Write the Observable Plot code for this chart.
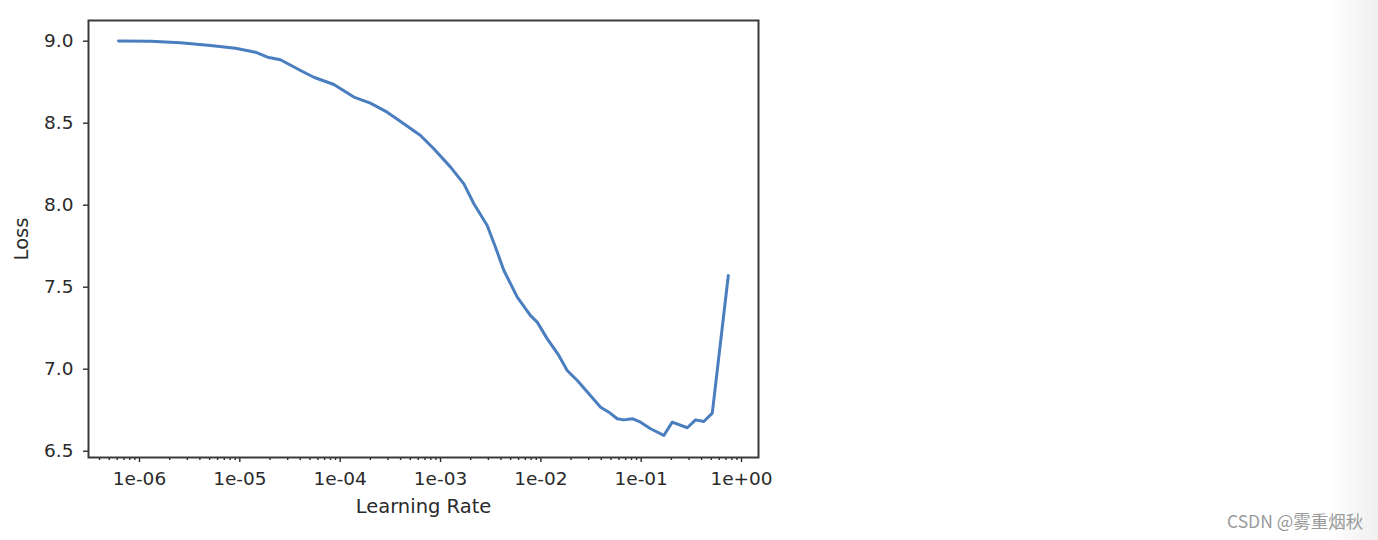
<!DOCTYPE html>
<html>
<head>
<meta charset="utf-8">
<script src="https://cdn.jsdelivr.net/npm/d3@7"></script>
<script src="https://cdn.jsdelivr.net/npm/@observablehq/plot@0.6"></script>
<style>
  html, body { margin: 0; padding: 0; background: #fff; }
  body { width: 1378px; height: 540px; position: relative; overflow: hidden; }
  #shade { position: absolute; top: 0; right: 0; width: 48px; height: 540px;
           background: linear-gradient(to right, rgba(240,240,240,0), #efefef); }
  #chart { position: absolute; left: 0; top: 0; }
  #wm { position: absolute; left: 1227px; top: 508px; font-family: "Noto Sans CJK SC", "Noto Sans", sans-serif;
        font-size: 17.5px; color: #9a9a9a; white-space: nowrap; }
  #chart svg [aria-label="x-axis label"] text, #chart svg [aria-label="y-axis label"] text { font-size: 19.5px; }
</style>
</head>
<body>
<div id="shade"></div>
<div id="chart"></div>
<div id="wm">CSDN @雾重烟秋</div>
<script>
const learningRates = [6.18e-7, 1.29e-6, 2.56e-6, 5.10e-6, 9.06e-6, 1.43e-5, 1.89e-5, 2.54e-5, 4.03e-5, 5.46e-5,
  8.65e-5, 1.37e-4, 2.00e-4, 2.94e-4, 4.31e-4, 6.32e-4, 8.57e-4, 1.26e-3, 1.71e-3, 2.15e-3,
  2.92e-3, 3.53e-3, 4.28e-3, 5.82e-3, 7.89e-3, 9.20e-3, 1.16e-2, 1.51e-2, 1.83e-2, 2.31e-2,
  3.01e-2, 3.94e-2, 4.76e-2, 5.77e-2, 6.71e-2, 8.15e-2, 9.86e-2, 0.124, 0.168, 0.204,
  0.288, 0.348, 0.421, 0.511, 0.738];
const losses = [9.001, 9.000, 8.990, 8.974, 8.957, 8.933, 8.902, 8.887, 8.821, 8.780,
  8.736, 8.659, 8.622, 8.567, 8.496, 8.425, 8.344, 8.232, 8.130, 8.009,
  7.876, 7.744, 7.602, 7.439, 7.327, 7.287, 7.185, 7.084, 6.992, 6.931,
  6.850, 6.768, 6.738, 6.698, 6.691, 6.698, 6.677, 6.637, 6.596, 6.677,
  6.643, 6.691, 6.681, 6.732, 7.571];
const xTickValues = [1e-6, 1e-5, 1e-4, 1e-3, 1e-2, 1e-1, 1e0];
const xTickLabels = ["1e-06", "1e-05", "1e-04", "1e-03", "1e-02", "1e-01", "1e+00"];
const yTickValues = [6.5, 7.0, 7.5, 8.0, 8.5, 9.0];
const yTickLabels = ["6.5", "7.0", "7.5", "8.0", "8.5", "9.0"];
const xLabel = "Learning Rate";
const yLabel = "Loss";

const data = learningRates.map((lr, i) => ({lr, loss: losses[i]}));
const xDomain = [Math.pow(10, -6.508), Math.pow(10, 0.169)];
const minorTicks = [];
for (let e = -7; e <= 0; e++) for (let k = 2; k <= 9; k++) {
  const v = k * Math.pow(10, e);
  if (v >= xDomain[0] && v <= xDomain[1]) minorTicks.push(v);
}
const xFmt = v => xTickLabels[xTickValues.indexOf(v)];
const yFmt = v => yTickLabels[yTickValues.indexOf(v)];

const ink = "#2a2a2a";
const chart = Plot.plot({
  width: 1378,
  height: 540,
  marginLeft: 88,
  marginRight: 620,
  marginTop: 20,
  marginBottom: 83,
  style: {fontFamily: "DejaVu Sans", fontSize: "18.5px", color: ink, background: "transparent"},
  x: {type: "log", domain: xDomain},
  y: {domain: [6.4616, 9.126]},
  marks: [
    Plot.axisX({ticks: minorTicks, tickSize: 3, tickFormat: () => "", strokeWidth: 1.4, label: null}),
    Plot.axisX({ticks: xTickValues, tickSize: 5, tickPadding: 9, tickFormat: xFmt, strokeWidth: 1.4,
      label: xLabel, labelAnchor: "center", labelArrow: "none", labelOffset: 55}),
    Plot.axisY({ticks: yTickValues, tickSize: 5, tickPadding: 10, tickFormat: yFmt, strokeWidth: 1.4,
      label: yLabel, labelAnchor: "center", labelArrow: "none", labelOffset: 74}),
    Plot.line(data, {x: "lr", y: "loss", stroke: "#4a7ebf", strokeWidth: 3, strokeLinejoin: "round"}),
    Plot.frame({stroke: "#3a3a3a", strokeWidth: 2})
  ]
});
document.getElementById("chart").appendChild(chart);
</script>
</body>
</html>
